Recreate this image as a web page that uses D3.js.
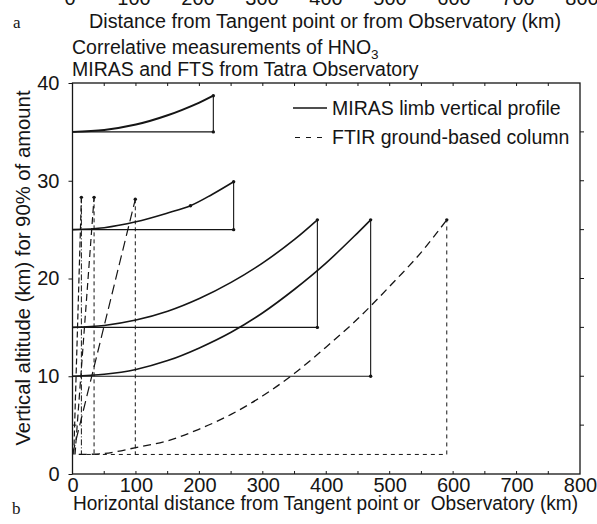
<!DOCTYPE html>
<html><head><meta charset="utf-8">
<script src="https://cdn.jsdelivr.net/npm/d3@7"></script>
<style>html,body{margin:0;padding:0;background:#fff;} svg{display:block;}</style>
</head><body>
<svg id="c" width="597" height="524"></svg>
<script>
// ---------- data ----------
const xTickValues = [0,100,200,300,400,500,600,700,800];
const yTickValues = [0,10,20,30,40];
// MIRAS limb profiles: curve points (distance km, altitude km)
const miras35X = [0,50,100,150,200,222];
const miras35Y = [35,35.2,35.75,36.7,38.0,38.7];
const miras25X = [0,50,100,150,186,220,254];
const miras25Y = [25,25.2,25.8,26.7,27.45,28.6,29.9];
const miras15X = [0,50,100,150,200,250,300,350,386];
const miras15Y = [15,15.2,15.75,16.65,17.95,19.6,21.6,24.0,26.0];
const miras10X = [0,50,100,150,200,250,300,350,400,450,470];
const miras10Y = [10,10.2,10.7,11.6,12.9,14.5,16.5,18.9,21.6,24.7,26.0];
const mirasMidDotX = [186];
const mirasMidDotY = [27.45];
// FTIR ground-based columns
const obsAlt = 2;
const ftirCurveX = [10,50,100,150,200,250,300,350,400,450,500,550,590];
const ftirCurveY = [2.0,2.1,2.7,3.4,4.6,6.1,8.0,10.3,13.0,15.9,19.2,22.7,26.0];
const ftirSlantBaseX = [2,4,0];
const ftirSlantTopX = [14,34,99];
const ftirSlantTopY = [28.3,28.3,28.1];

// ---------- setup ----------
const svg = d3.select('#c');
const ink = '#151515';
const sans = "'Liberation Sans', Arial, Helvetica, sans-serif";
const serif = "'Liberation Serif', 'Times New Roman', serif";
const x = d3.scaleLinear().domain([0,800]).range([72.5,580]);
const y = d3.scaleLinear().domain([0,40]).range([474,83]);
const xTop = d3.scaleLinear().domain([0,800]).range([70,582]);

// cut-off axis of panel a
svg.append('g').selectAll('text').data(xTickValues).join('text')
  .attr('x', d => xTop(d)).attr('y', 4.5).attr('text-anchor','middle')
  .attr('font-family', sans).attr('font-size', 20).attr('fill', ink).text(d => d);
svg.append('text').attr('x',13).attr('y',28).attr('font-family',serif).attr('font-size',17).attr('fill',ink).text('a');
svg.append('text').attr('x',89).attr('y',28).attr('font-family',sans).attr('font-size',19.5)
  .attr('fill',ink).attr('textLength',472).attr('lengthAdjust','spacingAndGlyphs')
  .text('Distance from Tangent point or from Observatory (km)');

// titles
const t1 = svg.append('text').attr('x',72).attr('y',54).attr('font-family',sans).attr('font-size',19.5).attr('fill',ink);
t1.append('tspan').text('Correlative measurements of HNO');
t1.append('tspan').attr('font-size',13.5).attr('dy',5).text('3');
svg.append('text').attr('x',72).attr('y',76).attr('font-family',sans).attr('font-size',19.5).attr('fill',ink)
  .text('MIRAS and FTS from Tatra Observatory');

// axes
const gx = svg.append('g').attr('transform',`translate(0,${y(0)})`)
  .call(d3.axisBottom(x).tickValues(xTickValues).tickSize(0).tickPadding(4));
gx.select('.domain').remove();
gx.selectAll('text').attr('font-family',sans).attr('font-size',20).attr('fill',ink);
const gy = svg.append('g').attr('transform',`translate(${x(0)},0)`)
  .call(d3.axisLeft(y).tickValues(yTickValues).tickSize(4).tickPadding(9));
gy.select('.domain').remove();
gy.selectAll('line').attr('stroke',ink);
gy.selectAll('text').attr('font-family',sans).attr('font-size',20).attr('fill',ink);

// minor ticks
const minorX = d3.range(50,800,50);
svg.append('g').selectAll('line').data(minorX).join('line')
  .attr('x1',d=>x(d)).attr('x2',d=>x(d)).attr('y1',y(0)).attr('y2',y(0)-3).attr('stroke',ink);
svg.append('g').selectAll('line').data(minorX).join('line')
  .attr('x1',d=>x(d)).attr('x2',d=>x(d)).attr('y1',y(40)).attr('y2',y(40)+3).attr('stroke',ink);
const minorY = d3.range(5,40,5);
svg.append('g').selectAll('line').data(minorY).join('line')
  .attr('x1',x(800)).attr('x2',x(800)+4).attr('y1',d=>y(d)).attr('y2',d=>y(d)).attr('stroke',ink);
svg.append('g').selectAll('line').data([5,35]).join('line')
  .attr('x1',x(0)).attr('x2',x(0)+4).attr('y1',d=>y(d)).attr('y2',d=>y(d)).attr('stroke',ink);

// frame
svg.append('rect').attr('x',x(0)).attr('y',y(40)).attr('width',x(800)-x(0)).attr('height',y(0)-y(40))
  .attr('fill','none').attr('stroke',ink).attr('stroke-width',1.3);

// axis labels
svg.append('text').attr('transform',`translate(30,268) rotate(-90)`).attr('text-anchor','middle')
  .attr('font-family',sans).attr('font-size',20.3).attr('fill',ink)
  .text('Vertical altitude (km) for 90% of amount');
svg.append('text').attr('x',73).attr('y',510).attr('font-family',sans).attr('font-size',19.5)
  .attr('fill',ink).attr('textLength',505).attr('lengthAdjust','spacingAndGlyphs')
  .style('white-space','pre')
  .text('Horizontal distance from Tangent point or  Observatory (km)');
svg.append('text').attr('x',12).attr('y',514).attr('font-family',serif).attr('font-size',17).attr('fill',ink).text('b');

// ---------- marks ----------
const line = d3.line().x(d=>x(d[0])).y(d=>y(d[1])).curve(d3.curveCatmullRom.alpha(0.5));
const plain = d3.line().x(d=>x(d[0])).y(d=>y(d[1]));
const mirasSets = [[miras35X,miras35Y,2.0],[miras25X,miras25Y,1.6],[miras15X,miras15Y,1.6],[miras10X,miras10Y,1.6]];
const dots = [];
mirasSets.forEach(([xs,ys,w]) => {
  const pts = xs.map((v,i)=>[v,ys[i]]);
  const end = pts[pts.length-1], base = pts[0];
  svg.append('path').attr('d', plain([[base[0],base[1]],[end[0],base[1]],[end[0],end[1]]]))
    .attr('fill','none').attr('stroke',ink).attr('stroke-width',1.1);
  svg.append('path').attr('d', line(pts)).attr('fill','none').attr('stroke',ink).attr('stroke-width',w);
  dots.push(end, [end[0],base[1]]);
});
mirasMidDotX.forEach((v,i)=>dots.push([v,mirasMidDotY[i]]));

// FTIR
const ftirPts = ftirCurveX.map((v,i)=>[v,ftirCurveY[i]]);
const fEnd = ftirPts[ftirPts.length-1];
svg.append('path').attr('d', plain([[ftirPts[0][0],obsAlt],[fEnd[0],obsAlt]]))
  .attr('fill','none').attr('stroke',ink).attr('stroke-width',1).attr('stroke-dasharray','4,4');
svg.append('path').attr('d', plain([[fEnd[0],obsAlt],[fEnd[0],fEnd[1]]]))
  .attr('fill','none').attr('stroke',ink).attr('stroke-width',1).attr('stroke-dasharray','4,4');
svg.append('path').attr('d', line(ftirPts)).attr('fill','none').attr('stroke',ink)
  .attr('stroke-width',1.3).attr('stroke-dasharray','8,5');
dots.push(fEnd);
const slantDash = ['6,3','7,4','10,5'];
const vertDash = ['6,2,1,2','4,3','4,3'];
ftirSlantTopX.forEach((tx,i)=>{
  svg.append('path').attr('d', plain([[ftirSlantBaseX[i],obsAlt],[tx,ftirSlantTopY[i]]]))
    .attr('fill','none').attr('stroke',ink).attr('stroke-width',1.2).attr('stroke-dasharray',slantDash[i]);
  svg.append('path').attr('d', plain([[tx,ftirSlantTopY[i]],[tx,obsAlt]]))
    .attr('fill','none').attr('stroke',ink).attr('stroke-width',1).attr('stroke-dasharray',vertDash[i]);
  dots.push([tx,ftirSlantTopY[i]]);
});
svg.append('g').selectAll('circle').data(dots).join('circle')
  .attr('cx',d=>x(d[0])).attr('cy',d=>y(d[1])).attr('r',1.7).attr('fill',ink);

// legend
svg.append('line').attr('x1',293).attr('x2',327).attr('y1',108).attr('y2',108).attr('stroke',ink).attr('stroke-width',1.3);
svg.append('text').attr('x',332).attr('y',115).attr('font-family',sans).attr('font-size',19.5).attr('fill',ink)
  .text('MIRAS limb vertical profile');
svg.append('line').attr('x1',295).attr('x2',327).attr('y1',137.5).attr('y2',137.5).attr('stroke',ink)
  .attr('stroke-width',1.2).attr('stroke-dasharray','5,6');
svg.append('text').attr('x',332).attr('y',144).attr('font-family',sans).attr('font-size',19.5).attr('fill',ink)
  .text('FTIR ground-based column');
</script>
</body></html>
